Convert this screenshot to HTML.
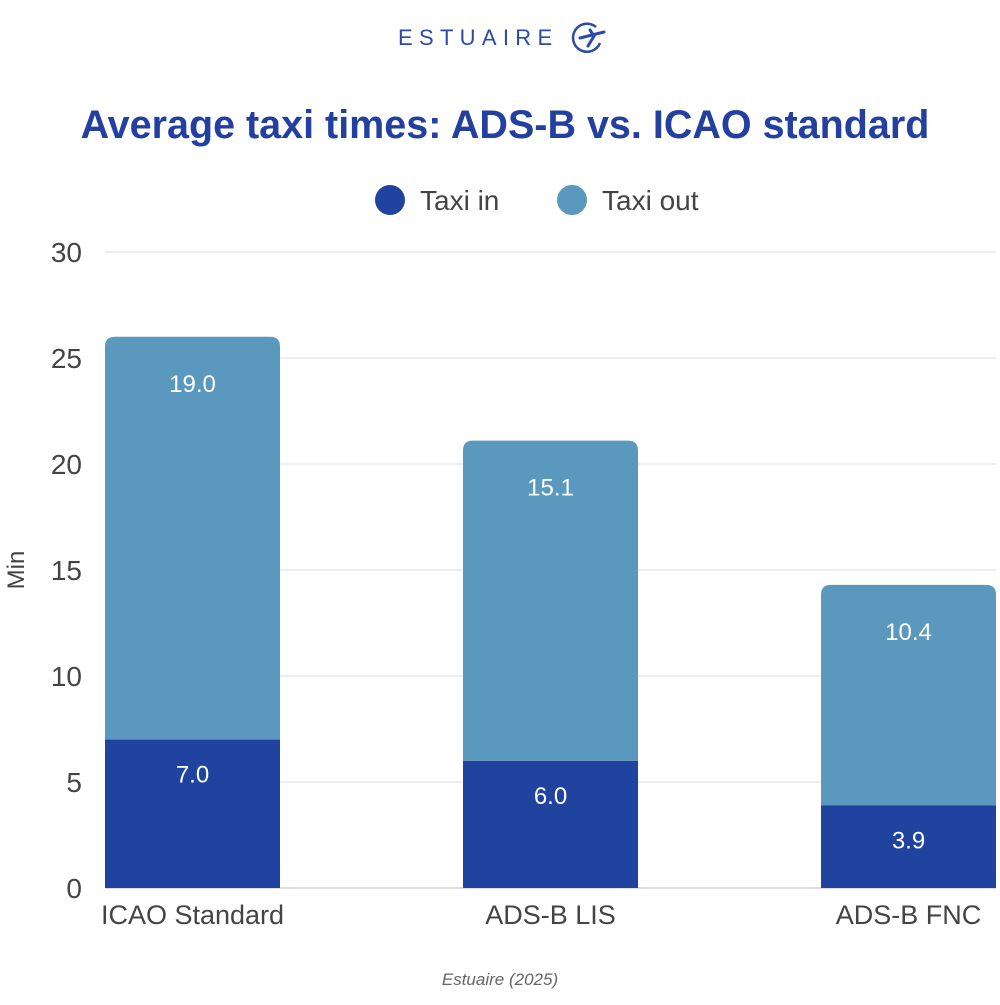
<!DOCTYPE html>
<html><head><meta charset="utf-8"><style>
body{margin:0;background:#fff;font-family:"Liberation Sans",sans-serif}
</style></head><body>
<svg width="1000" height="1000" viewBox="0 0 1000 1000">
<g>
<text x="398" y="45" font-size="22" letter-spacing="6.3" fill="#2c4aa6">ESTUAIRE</text>
<path d="M596 27 a14 14 0 1 0 4 16" fill="none" stroke="#2c4aa6" stroke-width="2.5"/>
<path d="M580 38 L604 32 M590 30 L594 36 L588 46" fill="none" stroke="#2c4aa6" stroke-width="3" stroke-linecap="round"/>
</g>
<text x="505" y="138" text-anchor="middle" font-size="39.5" font-weight="bold" fill="#2340a0">Average taxi times: ADS-B vs. ICAO standard</text>
<g>
<circle cx="390" cy="200" r="15" fill="#2143a0"/>
<text x="420" y="210" font-size="28" fill="#444">Taxi in</text>
<circle cx="572" cy="200" r="15" fill="#5a98be"/>
<text x="602" y="210" font-size="28" fill="#444">Taxi out</text>
</g>
<text transform="translate(24,570) rotate(-90)" text-anchor="middle" font-size="24" fill="#444">Min</text>
<g id="grid"></g><g id="bars"></g>
<text x="500" y="985" text-anchor="middle" font-size="17" font-style="italic" fill="#666">Estuaire (2025)</text>
</svg>
<script>
const categories=["ICAO Standard","ADS-B LIS","ADS-B FNC"];
const taxiIn=[7.0,6.0,3.9];
const taxiOut=[19.0,15.1,10.4];
const yTicks=[0,5,10,15,20,25,30];
const NS="http://www.w3.org/2000/svg";
const y=v=>888-v*21.2;
const step=358,bw=175,x0=105;
const bx=i=>x0+i*step;
function mk(t,a,p){const e=document.createElementNS(NS,t);for(const k in a)e.setAttribute(k,a[k]);p.appendChild(e);return e;}
const grid=document.getElementById('grid'),bars=document.getElementById('bars');
yTicks.forEach(v=>{
 const l=mk('line',{x1:105,x2:996,y1:y(v),y2:y(v),stroke:v===0?'#bbb':'#ddd','stroke-width':1},grid);
 
 
 const t=mk('text',{x:82,y:y(v)+10,'text-anchor':'end','font-size':28,fill:'#444'},grid);t.textContent=v;
 
 
});
categories.forEach((c,i)=>{
 const x=bx(i),a=taxiIn[i],b=taxiOut[i],top=y(a+b),mid=y(a),r=10;
 const d=`M${x} ${mid}V${top+r}Q${x} ${top} ${x+r} ${top}H${x+bw-r}Q${x+bw} ${top} ${x+bw} ${top+r}V${mid}Z`;
 const po=mk('path',{d,fill:'#5a98be'},bars);
 
 
 const pi=mk('rect',{x,y:mid,width:bw,height:y(0)-mid,fill:'#2143a0'},bars);
 
 
 const t1=mk('text',{x:x+bw/2,y:top+55,'text-anchor':'middle','font-size':24,fill:'#fff'},bars);t1.textContent=b.toFixed(1);
 
 
 const t2=mk('text',{x:x+bw/2,y:mid+43,'text-anchor':'middle','font-size':24,fill:'#fff'},bars);t2.textContent=a.toFixed(1);
 
 
 const tl=mk('text',{x:x+bw/2,y:924,'text-anchor':'middle','font-size':27,fill:'#444'},bars);tl.textContent=c;
 
 
});
</script>
</body></html>
